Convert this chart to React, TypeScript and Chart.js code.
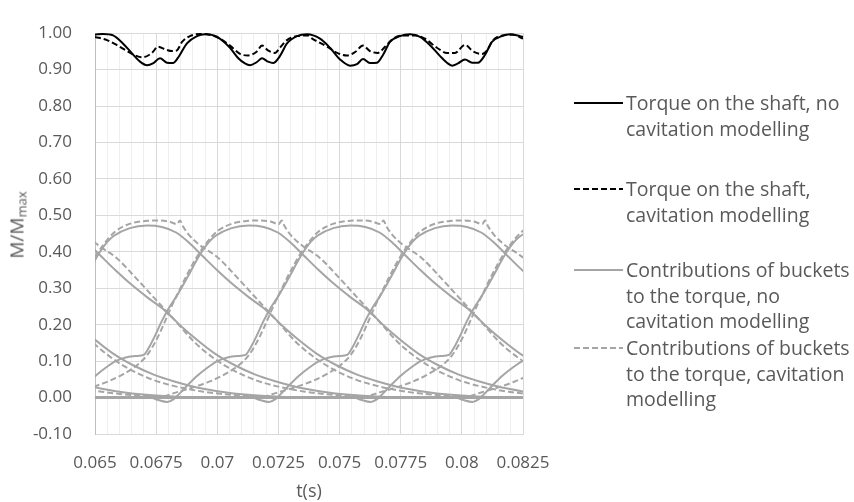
import { useEffect, useRef } from "react";
import { Chart, registerables } from "chart.js";

Chart.register(...registerables);

const FONT = "'Open Sans', Lato, sans-serif";
const TEXT = "#595959";
const GREY = "#A5A5A5";

const X_MIN = 0.065;
const X_MAX = 0.0825;
const xTickLabels = ["0.065", "0.0675", "0.07", "0.0725", "0.075", "0.0775", "0.08", "0.0825"];
const yTickLabels = ["-0.10", "0.00", "0.10", "0.20", "0.30", "0.40", "0.50", "0.60", "0.70", "0.80", "0.90", "1.00"];

// Torque on the shaft, no cavitation modelling
const shaftTimes = [
  0.065, 0.06533, 0.06574, 0.06614, 0.06655, 0.06684, 0.06713, 0.06737, 0.06766, 0.06794,
  0.06819, 0.06839, 0.06876, 0.06917, 0.0695, 0.06999, 0.07052, 0.07085, 0.07113, 0.07134,
  0.07162, 0.07183, 0.07207, 0.07228, 0.07256, 0.07285, 0.07326, 0.07367, 0.0742, 0.07461,
  0.07502, 0.07543, 0.07571, 0.07596, 0.07624, 0.07653, 0.07678, 0.07706, 0.07747, 0.07788,
  0.07829, 0.0787, 0.07911, 0.07939, 0.0796, 0.07984, 0.08013, 0.08042, 0.08066, 0.08095,
  0.08123, 0.08164, 0.08197, 0.08238, 0.0825,
];
const shaftNoCav = [
  0.996, 0.998, 0.994, 0.972, 0.942, 0.922, 0.912, 0.917, 0.931, 0.919,
  0.918, 0.932, 0.972, 0.992, 0.997, 0.99, 0.96, 0.932, 0.917, 0.912,
  0.921, 0.931, 0.922, 0.918, 0.937, 0.972, 0.992, 0.997, 0.985, 0.96,
  0.928, 0.911, 0.915, 0.929, 0.918, 0.919, 0.941, 0.976, 0.992, 0.997,
  0.99, 0.967, 0.937, 0.919, 0.911, 0.917, 0.928, 0.919, 0.919, 0.941,
  0.976, 0.992, 0.997, 0.992, 0.99,
];

// Torque on the shaft, cavitation modelling
const shaftCavTimes = [
  0.065, 0.06549, 0.0659, 0.06631, 0.06672, 0.06696, 0.06733, 0.06758, 0.06786, 0.06815,
  0.06835, 0.06856, 0.06888, 0.06929, 0.0697, 0.07011, 0.07052, 0.07093, 0.07126, 0.07162,
  0.07183, 0.07207, 0.07236, 0.07256, 0.07285, 0.07326, 0.07367, 0.07391, 0.07449, 0.0749,
  0.0753, 0.07563, 0.07596, 0.07624, 0.07657, 0.07686, 0.07719, 0.07759, 0.07808, 0.07849,
  0.07898, 0.07939, 0.07972, 0.08013, 0.08046, 0.08083, 0.08103, 0.08128, 0.08168, 0.08209,
  0.0825,
];
const shaftCav = [
  0.99, 0.981, 0.967, 0.951, 0.937, 0.934, 0.946, 0.963, 0.956, 0.951,
  0.953, 0.976, 0.992, 0.998, 0.996, 0.985, 0.966, 0.943, 0.939, 0.95,
  0.966, 0.953, 0.946, 0.96, 0.981, 0.992, 0.994, 0.984, 0.963, 0.946,
  0.939, 0.948, 0.966, 0.951, 0.946, 0.963, 0.985, 0.994, 0.994, 0.985,
  0.96, 0.946, 0.946, 0.968, 0.95, 0.943, 0.953, 0.981, 0.994, 0.996,
  0.985,
];

// Torque of one bucket over its pass, time in ms relative to its maximum
const bucketNoCavMs = [
  -8.18, -7.89, -7.48, -7.24, -7.03, -6.66, -6.26, -5.85, -5.44, -5.03,
  -4.62, -4.29, -4.09, -3.8, -3.56, -3.27, -2.98, -2.74, -2.45, -2.17,
  -1.92, -1.64, -1.35, -0.7, 0, 0.61, 1.19, 1.72, 2.25, 2.86,
  3.52, 4.17, 4.87, 5.52, 6.21, 6.95, 7.77, 8.59, 9.4, 10.63,
  11.86, 13.49, 15.54,
];
const bucketNoCav = [
  0, -0.006, -0.012, -0.005, 0.008, 0.034, 0.06, 0.082, 0.1, 0.11,
  0.114, 0.117, 0.136, 0.174, 0.209, 0.245, 0.275, 0.302, 0.337, 0.372,
  0.4, 0.426, 0.444, 0.465, 0.472, 0.468, 0.453, 0.425, 0.39, 0.35,
  0.31, 0.275, 0.24, 0.198, 0.158, 0.12, 0.088, 0.063, 0.045, 0.024,
  0.011, 0.003, 0,
];
const bucketCavMs = [
  -7.97, -7.03, -6.34, -5.72, -5.11, -4.58, -4.17, -3.8, -3.48, -3.19,
  -2.94, -2.54, -2.13, -1.8, -1.31, -0.65, 0, 0.49, 0.9, 1.23,
  1.35, 1.47, 1.72, 2.13, 2.9, 3.68, 4.5, 5.32, 6.13, 6.95,
  7.77, 8.59, 9.4, 10.63, 11.86, 13.49, 15.54,
];
const bucketCav = [
  0, 0.016, 0.03, 0.045, 0.065, 0.088, 0.115, 0.155, 0.2, 0.245,
  0.28, 0.335, 0.385, 0.418, 0.455, 0.478, 0.485, 0.486, 0.483, 0.476,
  0.486, 0.47, 0.446, 0.42, 0.384, 0.33, 0.27, 0.21, 0.15, 0.105,
  0.072, 0.048, 0.032, 0.016, 0.007, 0.002, 0,
];

// Instants at which each bucket delivers its maximum torque (s)
const bucketPeakTimes = [
  0.050493, 0.054651, 0.058809, 0.062968, 0.067126, 0.071285, 0.075443, 0.079601, 0.08376, 0.087918,
];

const pairs = (xs: number[], ys: number[]) => xs.map((x, i) => ({ x, y: ys[i] }));

const bucketPoints = (peak: number, ms: number[], vals: number[]) => [
  { x: 0.045, y: 0 },
  ...ms.map((m, i) => ({ x: peak + m / 1000, y: vals[i] })),
  { x: 0.1, y: 0 },
];

const isMajorX = (v: number) => Math.round(v * 10000) % 25 === 0;

export default function App() {
  const canvasRef = useRef<HTMLCanvasElement>(null);

  useEffect(() => {
    const canvas = canvasRef.current;
    if (!canvas) return;

    const base = {
      showLine: true,
      pointRadius: 0,
      fill: false,
      cubicInterpolationMode: "monotone" as const,
    };

    const datasets: any[] = [
      {
        ...base,
        label: "Torque on the shaft, no cavitation modelling",
        data: pairs(shaftTimes, shaftNoCav),
        borderColor: "#000000",
        borderWidth: 2,
        clip: { left: 0, top: 3, right: 0, bottom: 0 },
      },
      {
        ...base,
        label: "Torque on the shaft, cavitation modelling",
        data: pairs(shaftCavTimes, shaftCav),
        borderColor: "#000000",
        borderWidth: 2,
        borderDash: [6, 3],
        clip: { left: 0, top: 3, right: 0, bottom: 0 },
      },
    ];

    bucketPeakTimes.forEach((peak, k) => {
      datasets.push({
        ...base,
        label: `Bucket ${k + 1}, no cavitation modelling`,
        data: bucketPoints(peak, bucketNoCavMs, bucketNoCav),
        borderColor: GREY,
        borderWidth: 2,
      });
    });
    bucketPeakTimes.forEach((peak, k) => {
      datasets.push({
        ...base,
        label: `Bucket ${k + 1}, cavitation modelling`,
        data: bucketPoints(peak, bucketCavMs, bucketCav),
        borderColor: GREY,
        borderWidth: 2,
        borderDash: [6, 3],
      });
    });

    const chart = new Chart(canvas, {
      type: "scatter",
      data: { datasets },
      options: {
        animation: false,
        responsive: false,
        events: [],
        layout: { padding: { left: 0, right: 331, top: 16, bottom: 0 } },
        plugins: { legend: { display: false }, tooltip: { enabled: false } },
        scales: {
          x: {
            type: "linear",
            min: X_MIN,
            max: X_MAX,
            afterFit: (scale: any) => {
              scale.height = 68;
            },
            border: { color: "#D9D9D9", width: 1 },
            grid: {
              drawTicks: false,
              lineWidth: 1,
              color: (ctx: any) => (ctx.tick && isMajorX(ctx.tick.value) ? "#D9D9D9" : "#EFEFEF"),
            },
            ticks: {
              stepSize: 0.0005,
              autoSkip: false,
              maxRotation: 0,
              padding: 19,
              color: TEXT,
              font: { family: FONT, size: 17 },
              callback: (v: any) => {
                const s = String(Number(Number(v).toFixed(5)));
                return xTickLabels.includes(s) ? s : "";
              },
            },
          },
          y: {
            type: "linear",
            min: -0.1,
            max: 1.0,
            afterFit: (scale: any) => {
              scale.width = 95;
            },
            border: { color: "#BFBFBF", width: 1 },
            grid: { drawTicks: false, color: "#D9D9D9", lineWidth: 1 },
            ticks: {
              stepSize: 0.1,
              padding: 23,
              color: TEXT,
              font: { family: FONT, size: 17 },
              callback: (v: any) => {
                const s = Number(v).toFixed(2);
                return yTickLabels.includes(s) ? s : "";
              },
            },
          },
        },
      },
    });

    return () => chart.destroy();
  }, []);

  const legendEntries = [
    { top: 90, lines: ["Torque on the shaft, no", "cavitation modelling"], color: "#000000", dash: "" },
    { top: 176, lines: ["Torque on the shaft,", "cavitation modelling"], color: "#000000", dash: "6 3" },
    { top: 257, lines: ["Contributions of buckets", "to the torque, no", "cavitation modelling"], color: GREY, dash: "" },
    { top: 335, lines: ["Contributions of buckets", "to the torque, cavitation", "modelling"], color: GREY, dash: "6 3" },
  ];

  return (
    <div
      style={{
        position: "absolute",
        left: 0,
        top: 0,
        width: 854,
        height: 502,
        background: "#ffffff",
        fontFamily: FONT,
        color: TEXT,
        overflow: "hidden",
      }}
    >
      <canvas ref={canvasRef} width={854} height={502} style={{ position: "absolute", left: 0, top: 0 }} />

      <div
        style={{
          position: "absolute",
          left: 19,
          top: 225,
          transform: "translate(-50%, -50%) rotate(-90deg)",
          whiteSpace: "nowrap",
          fontSize: 19,
          lineHeight: "22px",
        }}
      >
        M/M<sub style={{ fontSize: 13, verticalAlign: "-3px" }}>max</sub>
      </div>

      <div
        style={{
          position: "absolute",
          left: 309,
          top: 490,
          transform: "translate(-50%, -50%)",
          whiteSpace: "nowrap",
          fontSize: 18,
        }}
      >
        t(s)
      </div>

      {legendEntries.map((e, i) => (
        <div key={i}>
          <svg
            width={50}
            height={10}
            style={{ position: "absolute", left: 574, top: e.top + 8 }}
          >
            <line x1={0} y1={5} x2={49} y2={5} stroke={e.color} strokeWidth={2} strokeDasharray={e.dash || undefined} />
          </svg>
          <div
            style={{
              position: "absolute",
              left: 626,
              top: e.top,
              fontSize: 19.5,
              lineHeight: "25.5px",
              whiteSpace: "nowrap",
            }}
          >
            {e.lines.map((l, j) => (
              <div key={j}>{l}</div>
            ))}
          </div>
        </div>
      ))}
    </div>
  );
}
